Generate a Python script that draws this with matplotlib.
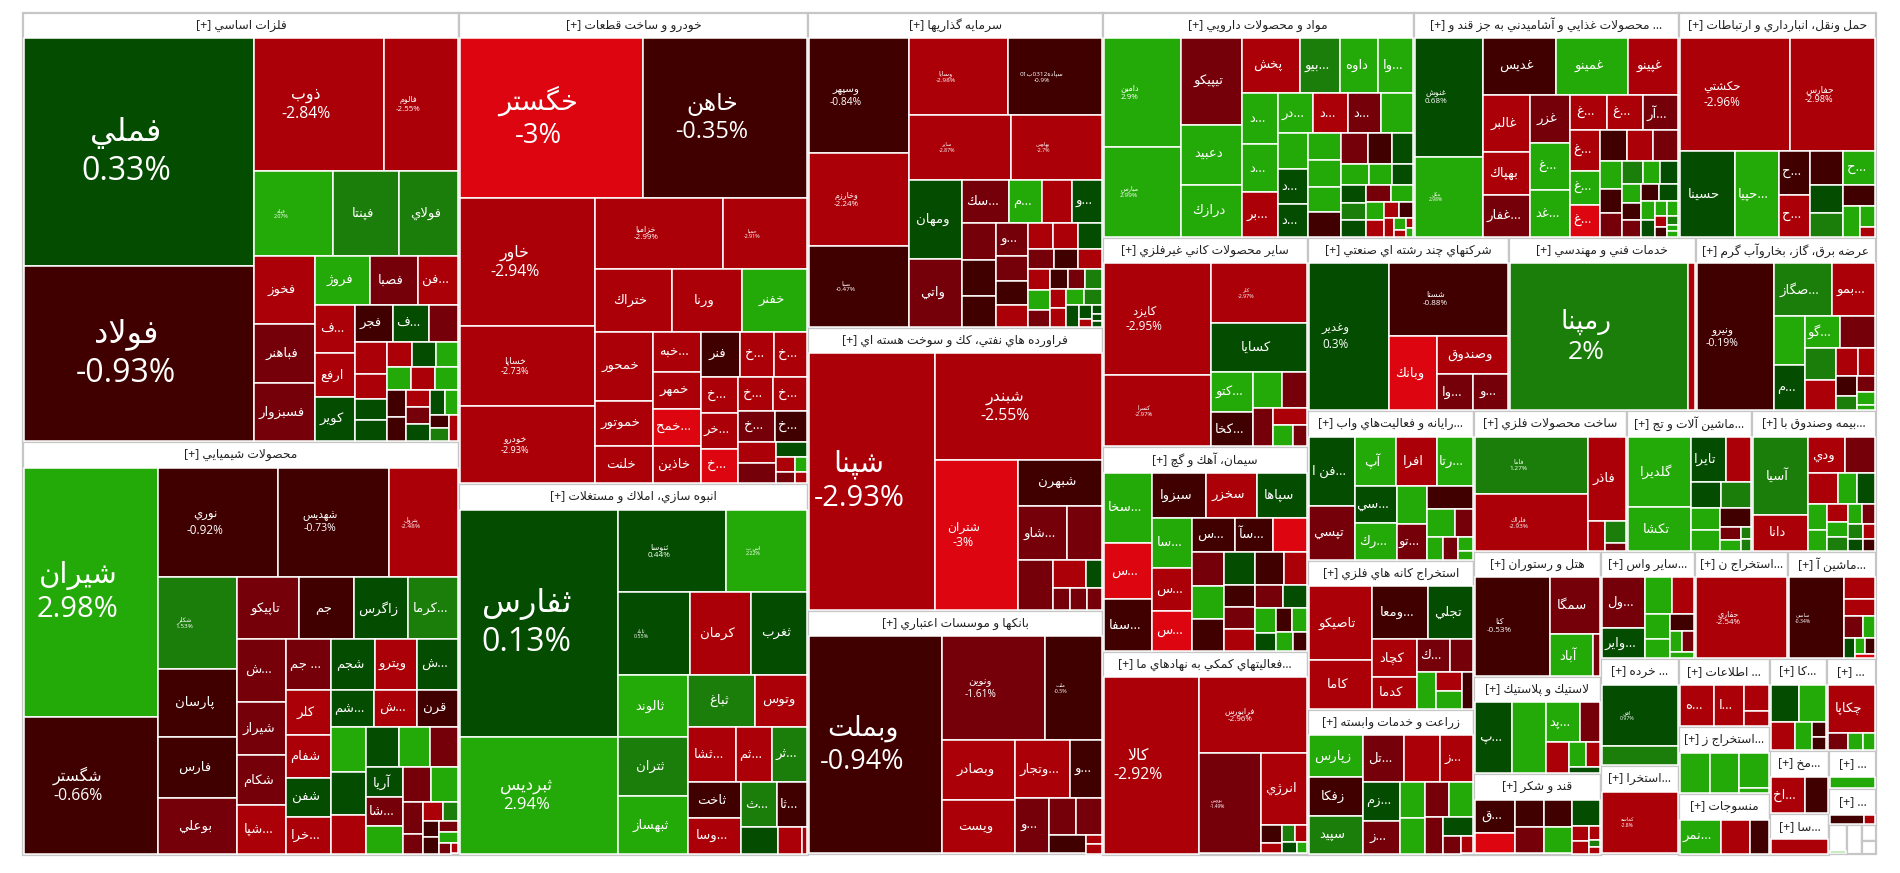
import re
import matplotlib
matplotlib.use("Agg")
import matplotlib.pyplot as plt
from matplotlib.colors import ListedColormap, BoundaryNorm
from matplotlib.patches import Rectangle

# sector titles and sizes (area share)
sector_titles = [
    'فلزات اساسي [+]', 'محصولات شيميايي [+]', 'خودرو و ساخت قطعات [+]', 'انبوه سازي، املاك و مستغلات [+]',
    'سرمايه گذاريها [+]', 'فراورده هاي نفتي، كك و سوخت هسته اي [+]', 'بانكها و موسسات اعتباري [+]',
    'مواد و محصولات دارويي [+]', '... محصولات غذايي و آشاميدني به جز قند و [+]', 'حمل ونقل، انبارداري و ارتباطات [+]',
    'ساير محصولات كاني غيرفلزي [+]', 'سيمان، آهك و گچ [+]', '...فعاليتهاي كمكي به نهادهاي ما [+]',
    'شركتهاي چند رشته اي صنعتي [+]', 'خدمات فني و مهندسي [+]', 'عرضه برق، گاز، بخاروآب گرم [+]',
    '...رايانه و فعاليت\u200cهاي واب [+]', 'استخراج كانه هاي فلزي [+]', 'زراعت و خدمات وابسته [+]',
    'ساخت محصولات فلزي [+]', '...ماشين آلات و تج [+]', '...بيمه وصندوق با [+]',
    'هتل و رستوران [+]', 'لاستيك و پلاستيك [+]', 'قند و شكر [+]',
    '...ساير واس [+]', '...استخراج ن [+]', '...ماشين آ [+]', '... خرده [+]', '...استخرا [+]',
    '... اطلاعات [+]', '...استخراج ز [+]', 'منسوجات [+]', '...كا [+]', '... [+]',
    '...مخ [+]', '...سا [+]', '... [+]', '... [+]', '', '', '', '']
sector_sizes = [185.8, 178.4, 163, 128, 91.8, 82.5, 71, 69.5, 59, 44, 42.6, 41.6, 41.2, 34.6, 32, 31,
                24.6, 24.4, 23.8, 21.3, 17.4, 17.3, 15.8, 12.3, 10.1, 10, 9.9, 9.4, 8.2, 6.8,
                6.1, 6.05, 5.4, 5.2, 4.5, 3.7, 2.4, 1.75, 1.65, 0.5, 0.45, 0.22, 0.18]

# cells per sector: symbol names, last change %, size
s01_names = ['فملي', 'فولاد', 'ذوب', 'فالوم', 'فيله', 'فپنتا', 'فولاي', 'فخوز', 'فباهنر', 'فسبزوار', 'فروژ', 'فصبا', '...فن', '...ف', 'ارفع', 'كوير', 'فجر', '...ف'] + [''] * 21
s01_pct = [0.33, -0.93, -2.84, -2.55, 2.07, 1.6, 1.5, -2.6, -1.5, -1.5, 2.7, -1.5, -2.6, -2.6, -2.6, 0.5, -0.6, 0.5,
           -1.5, -2.6, -2.6, 0.5, 0.5, -2.6, 0.5, 2.7, 2.7, -2.6, 2.7, -0.6, -0.6, -2.6, -1.5, 0.5, -0.6, -2.6, 0.5, 2.7, 1.5]
s01_size = [52.2, 40, 16.9, 9.6, 6.5, 5.4, 4.8, 3.9, 3.4, 3.3, 2.5, 2.2, 1.8, 1.75, 1.65, 1.6, 1.27, 1.2,
            0.95, 0.9, 0.7, 0.6, 0.57, 0.55, 0.5, 0.49, 0.48, 0.47, 0.45, 0.42, 0.38, 0.33, 0.33, 0.3, 0.2, 0.18, 0.33, 0.26, 0.2]

s02_names = ['شيران', 'شگستر', 'نوري', 'شهديس', 'پترول', 'شكلر', 'پارسان', 'فارس', 'بوعلي', 'تاپيكو', 'جم', 'زاگرس', '...كرما', '...ش', 'شيراز', 'شكام', '...شپا',
             '... جم', 'شجم', 'ويترو', '...ش', 'كلر', 'شفام', 'شفن', '...خرا', '...شم', '...ش', 'قرن'] + [''] * 6 + ['آريا', '...شا'] + [''] * 13
s02_pct = [2.98, -0.66, -0.92, -0.73, -2.48, 1.53, -0.7, -0.7, -1.5, -1.5, -0.7, 0.5, 1.5, -1.5, -1.5, -1.5, -2.6,
           -1.5, 0.5, -2.6, 0.5, -2.6, -2.6, 0.5, -2.6, 0.5, -2.6, -0.7, 2.7, 0.5, -2.6, 0.5, 2.7, -1.5, 0.5, -1.5,
           2.7, -1.5, 2.7, -1.5, -1.5, -2.6, 1.5, -0.7, -0.7, -1.5, 2.7, -1.5, -2.6]
s02_size = [32.9, 17.8, 12.7, 11.7, 7.3, 6.9, 5.1, 4.6, 4.1, 3.6, 3.2, 3.1, 2.9, 2.8, 2.4, 2.25, 2.15,
            2.1, 2.0, 1.95, 1.9, 1.89, 1.75, 1.6, 1.5, 1.45, 1.44, 1.4, 1.39, 1.35, 1.2, 1.15, 1.1, 1.0, 0.97, 0.94,
            0.9, 0.88, 0.85, 0.54, 0.33, 0.3, 0.22, 0.2, 0.2, 0.16, 0.15, 0.08, 0.05]

s03_names = ['خگستر', 'خاهن', 'خاور', 'خساپا', 'خودرو', 'خزاميا', 'حميا', 'ختراك', 'ورنا', 'خفنر', 'خمحور', 'خموتور', 'خلنت',
             '...خبه', 'خمهر', '...خمح', 'خاذين', 'فنر', '...خ', '...خ', '...خ', '...خر', '...خ', '...خ', '...خ', '...خ', '...خ'] + [''] * 7
s03_pct = [-3, -0.35, -2.94, -2.73, -2.93, -2.99, -2.91, -2.6, -2.6, 2.8, -2.6, -2.6, -2.6,
           -2.6, -2.6, -3, -2.6, -0.6, -2.6, -2.6, -2.6, -2.6, -3, -2.6, -2.6, -1.5, -0.6, -2.6, -1.5, 0.5, -2.6, -1.5, 2.7, -2.6]
s03_size = [28.6, 25.8, 16.8, 10.4, 10, 8.8, 5.7, 4.6, 4.2, 3.9, 3.75, 2.4, 2,
            1.75, 1.65, 1.64, 1.63, 1.6, 1.4, 1.35, 1.2, 1.19, 1.15, 1.05, 1.02, 1, 0.9, 0.68, 0.65, 0.4, 0.22, 0.15, 0.13, 0.1]

s04_names = ['ثفارس', 'ثبرديس', 'ثنوسا', 'اس ب', 'ثاباد', 'كرمان', 'ثغرب', 'ثالوند', 'ثتران', 'ثبهساز', 'ثباغ', 'وتوس', '...ثشا', '...ثم', '...ثر', 'ثاخت', '...وسا', '...ث', '...ثا', '', '', '']
s04_pct = [0.13, 2.94, 0.44, 2.22, 0.55, -2.6, 0.5, 2.8, 1.6, 2.8, 1.6, -2.6, -2.6, -2.6, 1.6, -0.6, -2.6, 1.6, -0.6, 0.5, -2.6, -2.6]
s04_size = [35.1, 17.9, 8.5, 6.4, 5.6, 4.8, 4.4, 4.1, 3.9, 3.75, 3.25, 2.5, 2.4, 1.85, 1.76, 1.75, 1.7, 1.45, 1.2, 0.85, 0.55, 0.1]

s05_names = ['وسپهر', 'وخارزم', 'صبا', 'وسايا', 'سپاده0312ب01', 'ساير', 'بهاوس', 'ومهان', 'واتي', '...سك', '...م', '', '...و', '', '', '', '...و'] + [''] * 25
s05_pct = [-0.84, -2.24, -0.47, -2.98, -0.9, -2.87, -2.7, 0.5, -1.5, -1.5, 2.8, -2.6, 0.5, -1.5, -0.6, -0.6,
           -1.5, -1.5, -0.6, -2.6, -2.6, -2.6, 0.5, -1.5, -0.6, -2.6, -2.6, -1.5, 2.8, -0.6, -2.6, 1.6, -2.6, 2.8, 1.6, -1.5, 0.5, 0.5, -2.6, 0.5, 0.5, 0.5]
s05_size = [11.4, 9.1, 7.9, 7.5, 7, 6.5, 5.8, 4.1, 3.5, 1.9, 1.3, 1.2, 1.19, 1.15, 1.1, 0.95,
            0.94, 0.7, 0.65, 0.6, 0.58, 0.56, 0.54, 0.45, 0.42, 0.4, 0.4, 0.32, 0.38, 0.28, 0.25, 0.27, 0.24, 0.23, 0.22, 0.28, 0.22, 0.14, 0.06, 0.05, 0.04, 0.03]

s06_names = ['شپنا', 'شبندر', 'شتران', 'شبهرن', '...شاو'] + [''] * 7
s06_pct = [-2.93, -2.55, -3, -0.6, -1.5, -1.5, -1.5, -2.6, 0.5, -1.5, -1.5, -1.5]
s06_size = [31.2, 17.2, 12, 3.5, 2.45, 1.7, 1.55, 0.8, 0.34, 0.29, 0.28, 0.25]

s07_names = ['وبملت', 'ونوين', 'ملت', 'وبصادر', 'ويست', '...وتجار', '...و', '...و', '', '', '', '', '']
s07_pct = [-0.94, -1.61, -0.5, -2.6, -2.6, -2.6, -0.6, -1.5, -1.5, -1.5, -0.6, -2.6, -2.6]
s07_size = [28.4, 10.4, 5.6, 4.2, 3.75, 3, 1.71, 1.7, 0.87, 0.83, 0.6, 0.1, 0.1]

s08_names = ['دامين', 'مبارس', 'تيپيكو', 'دعبيد', 'درازك', 'پخش', '...بيو', 'داوه', '...وا', '...د', '...د', '...بر', '...در', '...د', '...د', '', '', '...د', '...د'] + [''] * 24
s08_pct = [2.9, 2.99, -1.5, 2.8, 2.8, -2.6, 1.6, 2.8, 2.8, 2.8, 2.8, -2.6, 2.8, -2.6, -1.5, 2.8, 2.8, 0.5, 0.5,
           2.8, 2.8, 2.8, -0.6, -1.5, -0.6, 0.5, 0.5, 0.5, -1.5, 2.8, 2.8, 1.6, 2.8, 0.5, 2.8, -2.6, -2.6, -0.6, -2.6, 2.8, -2.6, -2.6, 2.8]
s08_size = [8.2, 6.7, 5.1, 3.5, 3, 3, 2.1, 1.95, 1.8, 1.65, 1.55, 1.45, 1.3, 1.25, 1.2, 1.15, 0.97, 0.95, 0.88,
            0.8, 0.78, 0.75, 0.72, 0.7, 0.65, 0.55, 0.38, 0.34, 0.33, 0.5, 0.42, 0.35, 0.3, 0.37, 0.26, 0.22, 0.2, 0.18, 0.15, 0.1, 0.05, 0.04, 0.03]

s09_names = ['غنوش', 'مكل', 'غديس', 'غمينو', 'غپينو', 'غالبر', 'بهپاك', '...غفار', 'غزر', '...غ', '...غد', '...غ', '...غ', '...آر', '...غ', '...غ', '...غ'] + [''] * 23
s09_pct = [0.68, 2.98, -0.6, 2.8, -2.6, -2.6, -2.6, -1.5, -1.5, 2.8, 2.8, -2.6, -2.6, -1.5, -2.6, 2.8, -3,
           -0.6, -2.6, -1.5, 2.8, -0.6, -1.5, 1.6, 2.8, 0.5, 2.8, -0.6, -0.6, -1.5, 0.5, 2.8, 0.5, 2.8, 2.8, -2.6, -0.6, 1.6, 2.8, 2.8]
s09_size = [7.8, 5.2, 4, 3.9, 2.7, 2.5, 1.9, 1.85, 1.75, 1.72, 1.7, 1.15, 1.14, 1.1, 1.09, 0.9, 0.85,
            0.75, 0.7, 0.68, 0.5, 0.45, 0.43, 0.4, 0.33, 0.32, 0.3, 0.27, 0.25, 0.26, 0.25, 0.2, 0.17, 0.13, 0.12, 0.1, 0.08, 0.06, 0.04, 0.03]

s10_names = ['حكشتي', 'حفارس', 'حسينا', '...حپيا', '...ح', '...ح', '', '...ح', '', '', '', '', '', '']
s10_pct = [-2.96, -2.98, 0.5, 2.8, -0.6, -2.6, -0.6, 2.8, 0.5, -0.6, 1.6, 2.8, 2.8, -2.6]
s10_size = [11.9, 9.2, 4.4, 3.5, 1.2, 1.15, 1, 0.95, 0.8, 0.55, 0.7, 0.42, 0.25, 0.1]

s11_names = ['كايزد', 'كسرا', 'كلر', 'كسايا', '...كتو', '...كخا', '', '', '', '', '', '']
s11_pct = [-2.95, -2.97, -2.97, 0.5, 2.8, -0.6, 2.8, -1.5, -1.5, -2.6, 2.8, -1.5]
s11_size = [11.6, 7.3, 5.4, 4.45, 1.5, 1.3, 0.9, 0.75, 0.65, 0.5, 0.35, 0.22]

s12_names = ['...سخا', '...س', '...سفا', 'سبزوا', 'سخزر', 'سپاها', '...سا', '...س', '...س', '...س', '...سآ'] + [''] * 18
s12_pct = [2.8, -3, -0.6, -0.6, -2.6, 0.5, 2.8, -2.6, -3, -0.6, -0.6, -3, -1.5, 2.8, -0.6, 0.5, -0.6, -2.6,
           -0.6, -1.5, 0.5, -2.6, -1.5, 2.8, 0.5, 2.8, -0.6, 2.8, -0.6]
s12_size = [3.1, 2.5, 2.25, 2.15, 2.05, 2, 1.8, 1.5, 1.4, 1.3, 1.15, 1, 0.95, 0.9, 0.88, 0.87, 0.8, 0.63,
            0.56, 0.55, 0.44, 0.55, 0.54, 0.42, 0.3, 0.28, 0.3, 0.25, 0.2]

s13_names = ['كالا', 'فرابورس', 'بورس', 'انرژي', '', '', '', '', '', '']
s13_pct = [-2.92, -2.96, -1.49, -2.6, -0.6, -2.6, -2.6, 1.6, 0.5, 2.8]
s13_size = [16.3, 7.8, 6, 3.05, 0.3, 0.17, 0.15, 0.17, 0.12, 0.07]

s14_names = ['وغدير', 'شستا', 'وبانك', 'وصندوق', '...وا', '...و']
s14_pct = [0.3, -0.88, -3, -2.6, -1.5, -1.5]
s14_size = [11.2, 8.2, 3.3, 2.5, 1.15, 1.1]

s15_names = ['رمپنا', '']
s15_pct = [2, -2.6]
s15_size = [25.2, 0.8]

s16_names = ['ونيرو', '...صگاز', '...بمو', '', '...م', '...گو', '', '', '', '', '', '', '', '', '', '']
s16_pct = [-0.19, 1.6, -2.6, 2.8, 0.5, 2.8, -1.5, 1.6, -2.6, -2.6, -2.6, -0.6, -1.5, 1.6, 2.8, 2.8]
s16_size = [11, 2.85, 2.1, 1.35, 1.25, 1.0, 0.98, 0.9, 0.85, 0.52, 0.42, 0.33, 0.22, 0.24, 0.17, 0.06]

s17_names = ['...فن ا', 'تپسي', 'آپ', 'افرا', '...رتا', '...سي', '...رك', '', '...تو', '', '', '', '', '', '', '']
s17_pct = [0.5, -1.5, 2.8, -2.6, 2.8, 0.5, 2.8, 2.8, -1.5, -0.6, 2.8, 2.8, -1.5, -1.5, 2.8, 2.8]
s17_size = [3.05, 2.35, 1.9, 1.85, 1.65, 1.45, 1.44, 1.08, 1, 0.97, 0.7, 0.3, 0.27, 0.42, 0.15, 0.1]

s18_names = ['تاصيكو', 'كاما', '...ومعا', 'تجلي', 'كچاد', 'كدما', '...ك', '', '', '', '', '']
s18_pct = [-2.6, -2.6, -0.6, 0.5, -2.6, -2.6, -1.5, -1.5, 2.8, 2.8, -2.6, -0.6]
s18_size = [4.4, 2.9, 2.75, 2.15, 1.55, 1.25, 1, 0.65, 0.62, 0.38, 0.4, 0.3]

s19_names = ['زپارس', 'زفكا', 'سپيد', '...تل', '', '...ز', '...زم', '...ز', '', '', '', '', '', '', '', '']
s19_pct = [2.8, -0.6, 1.6, -1.5, -2.6, -2.6, 0.5, -1.5, 2.8, 2.8, -1.5, 2.8, -1.5, 0.5, -1.5, -2.6]
s19_size = [2.1, 1.95, 1.9, 1.8, 1.55, 1.4, 1.35, 1.1, 0.8, 0.78, 0.75, 0.72, 0.6, 0.5, 0.24, 0.15]

s20_names = ['فاما', 'فلراك', 'فاذر', '', '', '']
s20_pct = [1.27, -2.93, -2.6, -2.6, 1.6, -1.5]
s20_size = [6.35, 6.3, 3, 0.42, 0.4, 0.12]

s21_names = ['گلديرا', 'تكشا', 'تايرا'] + [''] * 10
s21_pct = [2.8, 2.8, 0.5, -2.6, 0.5, 1.6, 2.8, 2.8, -0.6, -1.5, 2.8, 1.6, 1.6]
s21_size = [4.4, 2.65, 1.5, 1.05, 0.75, 0.72, 0.57, 0.53, 0.5, 0.22, 0.19, 0.09, 0.08]

s22_names = ['آسيا', 'دانا', 'ودي'] + [''] * 15
s22_pct = [1.6, -2.6, -2.6, -1.5, -2.6, 2.8, 0.5, 2.8, 2.8, -2.6, 2.8, 2.8, -1.5, 1.6, 1.6, -2.6, 0.5, -0.6]
s22_size = [4.2, 1.9, 1.3, 1, 0.86, 0.5, 0.48, 0.44, 0.33, 0.33, 0.28, 0.23, 0.2, 0.24, 0.18, 0.14, 0.13, 0.1]

s23_names = ['كتا', 'سمگا', 'آباد', '']
s23_pct = [-0.53, -1.5, 2.8, -1.5]
s23_size = [7.2, 2.7, 1.65, 0.25]

s24_names = ['...پ', '', '...پد', '', '', '', '', '']
s24_pct = [0.5, 2.8, 2.8, -1.5, -2.6, 2.8, -2.6, 0.5]
s24_size = [2.5, 2.25, 1.2, 0.68, 0.62, 0.35, 0.3, 0.15]

s25_names = ['...ق'] + [''] * 11
s25_pct = [-0.6, -3, -0.6, -1.5, -0.6, 2.8, 0.5, -2.6, -2.6, -2.6, 1.6, -2.6]
s25_size = [1.25, 0.78, 0.72, 0.7, 0.69, 0.68, 0.67, 0.22, 0.17, 0.12, 0.05, 0.05]

s26_names = ['...ول', '...واير', '', '', '', '', '', '', '', '']
s26_pct = [-1.5, 0.5, 2.8, -2.6, 2.8, 2.8, -0.6, 2.8, -1.5, 2.8]
s26_size = [2.05, 1.2, 0.92, 0.72, 0.52, 0.42, 0.34, 0.2, 0.2, 0.12]

s27_names = ['حفاري']
s27_pct = [-2.54]
s27_size = [7.1]

s28_names = ['ساسي', '', '', '', '', '', '', '', '']
s28_pct = [-0.34, -2.6, -2.6, -1.5, 2.8, 0.5, 2.8, -0.6, -3]
s28_size = [4.3, 0.61, 0.45, 0.35, 0.2, 0.18, 0.12, 0.12, 0.06]

s29_names = ['افق', '']
s29_pct = [0.97, 1.6]
s29_size = [4.3, 1.3]

s30_names = ['كماسه']
s30_pct = [-2.8]
s30_size = [4.4]

s31_names = ['...ه', '...ا', '', '']
s31_pct = [-2.6, -2.6, -2.6, -2.6]
s31_size = [1.2, 1.05, 0.52, 0.3]

s32_names = ['', '', '', '']
s32_pct = [2.8, 2.8, 2.8, 2.8]
s32_size = [1.06, 1, 0.87, 0.12]

s33_names = ['...نمر', '', '']
s33_pct = [2.8, -2.6, -0.6]
s33_size = [1.2, 0.85, 0.52]

s34_names = ['', '', '', '', '', '']
s34_pct = [0.5, 2.8, -2.6, 2.8, -0.6, -0.6]
s34_size = [1, 0.9, 0.6, 0.42, 0.16, 0.14]

s35_names = ['چكاپا', '', '', '']
s35_pct = [-2.6, -1.5, 2.8, 2.8]
s35_size = [1.95, 0.26, 0.2, 0.14]

s36_names = ['...اخ', '']
s36_pct = [-2.6, -0.6]
s36_size = [1.05, 0.7]

s37_names, s37_pct, s37_size = [''], [-2.6], [0.6]
s38_names, s38_pct, s38_size = [''], [2.8], [0.3]
s39_names, s39_pct, s39_size = ['', ''], [-0.6, -2.6], [0.25, 0.07]
s40_names, s40_pct, s40_size = [''], [2.8], [0.07]
empty_names, empty_pct, empty_size = [], [], []

all_names = [s01_names, s02_names, s03_names, s04_names, s05_names, s06_names, s07_names, s08_names, s09_names, s10_names,
             s11_names, s12_names, s13_names, s14_names, s15_names, s16_names, s17_names, s18_names, s19_names, s20_names,
             s21_names, s22_names, s23_names, s24_names, s25_names, s26_names, s27_names, s28_names, s29_names, s30_names,
             s31_names, s32_names, s33_names, s34_names, s35_names, s36_names, s37_names, s38_names, s39_names, s40_names,
             empty_names, empty_names, empty_names]
all_pct = [s01_pct, s02_pct, s03_pct, s04_pct, s05_pct, s06_pct, s07_pct, s08_pct, s09_pct, s10_pct,
           s11_pct, s12_pct, s13_pct, s14_pct, s15_pct, s16_pct, s17_pct, s18_pct, s19_pct, s20_pct,
           s21_pct, s22_pct, s23_pct, s24_pct, s25_pct, s26_pct, s27_pct, s28_pct, s29_pct, s30_pct,
           s31_pct, s32_pct, s33_pct, s34_pct, s35_pct, s36_pct, s37_pct, s38_pct, s39_pct, s40_pct,
           empty_pct, empty_pct, empty_pct]
all_size = [s01_size, s02_size, s03_size, s04_size, s05_size, s06_size, s07_size, s08_size, s09_size, s10_size,
            s11_size, s12_size, s13_size, s14_size, s15_size, s16_size, s17_size, s18_size, s19_size, s20_size,
            s21_size, s22_size, s23_size, s24_size, s25_size, s26_size, s27_size, s28_size, s29_size, s30_size,
            s31_size, s32_size, s33_size, s34_size, s35_size, s36_size, s37_size, s38_size, s39_size, s40_size,
            empty_size, empty_size, empty_size]

# symbols that also show the % line, with its font size in pt
pct_label_pt = {'فملي': 23, 'فولاد': 23, 'ذوب': 11.3, 'فالوم': 5.7, 'فيله': 3.8, 'شيران': 21, 'شگستر': 11.3, 'نوري': 8.5,
                'شهديس': 7.6, 'پترول': 4.6, 'شكلر': 4.6, 'خگستر': 19.7, 'خاهن': 16.8, 'خاور': 11.3, 'خساپا': 6.6, 'خودرو': 6.6,
                'خزاميا': 5.8, 'حميا': 3.9, 'ثفارس': 23, 'ثبرديس': 12, 'ثنوسا': 5.9, 'اس ب': 3.9, 'ثاباد': 3.9, 'وسپهر': 7.4,
                'وخارزم': 5.8, 'صبا': 4.6, 'وسايا': 4.6, 'سپاده0312ب01': 4.6, 'ساير': 3.8, 'بهاوس': 3.8, 'دامين': 5.8,
                'مبارس': 4.6, 'شپنا': 21, 'شبندر': 11.3, 'شتران': 8.8, 'وبملت': 19.4, 'ونوين': 7.3, 'ملت': 3.9, 'غنوش': 5.9,
                'مكل': 3.6, 'حكشتي': 8.5, 'حفارس': 6.6, 'كايزد': 8.5, 'كسرا': 4.2, 'كلر': 3.9, 'كالا': 11.3, 'فرابورس': 5.8,
                'بورس': 3.5, 'وغدير': 8.5, 'شستا': 5.8, 'رمپنا': 19, 'ونيرو': 7.6, 'فاما': 4.6, 'فلراك': 4.6, 'كتا': 5.8,
                'حفاري': 5.8, 'ساسي': 3.7, 'افق': 3.8, 'كماسه': 3.5}
# 'كلر' in the chemicals sector is a plain name label
plain_in_sector = {(1, 'كلر')}

font_list = ['Open Sans', 'DejaVu Sans']
plt.rcParams['font.family'] = font_list

cmap = ListedColormap(['#dc0510', '#ac0008', '#75000a', '#400000', '#044c00', '#1c7e0a', '#24aa08'])
norm = BoundaryNorm([-3.5, -2.995, -1.9, -1.0, 0, 1, 2.05, 3.5], cmap.N)

# arabic shaping, matplotlib does not join letters or reorder rtl by itself
dual = {'ئ': 0xFE89, 'ب': 0xFE8F, 'ت': 0xFE95, 'ث': 0xFE99, 'ج': 0xFE9D, 'ح': 0xFEA1, 'خ': 0xFEA5, 'س': 0xFEB1,
        'ش': 0xFEB5, 'ص': 0xFEB9, 'ض': 0xFEBD, 'ط': 0xFEC1, 'ظ': 0xFEC5, 'ع': 0xFEC9, 'غ': 0xFECD, 'ف': 0xFED1,
        'ق': 0xFED5, 'ك': 0xFED9, 'ل': 0xFEDD, 'م': 0xFEE1, 'ن': 0xFEE5, 'ه': 0xFEE9, 'ي': 0xFEF1,
        'پ': 0xFB56, 'چ': 0xFB7A, 'گ': 0xFB92, 'ک': 0xFB8E, 'ی': 0xFBFC}
right = {'آ': 0xFE81, 'أ': 0xFE83, 'ؤ': 0xFE85, 'إ': 0xFE87, 'ا': 0xFE8D, 'ة': 0xFE93, 'د': 0xFEA9, 'ذ': 0xFEAB,
         'ر': 0xFEAD, 'ز': 0xFEAF, 'و': 0xFEED, 'ژ': 0xFB8A}
mirror = {'[': ']', ']': '[', '(': ')', ')': '('}


def shape(text):
    out = []
    i = 0
    n = len(text)
    prev_joins = False
    while i < n:
        ch = text[i]
        nxt = text[i + 1] if i + 1 < n else ''
        if ch == 'ل' and nxt in ('ا', 'آ'):
            base = 0xFEFB if nxt == 'ا' else 0xFEF5
            out.append(chr(base + (1 if prev_joins else 0)))
            prev_joins = False
            i += 2
            continue
        if ch in dual:
            next_joins = nxt in dual or nxt in right
            form = (1 if prev_joins and not next_joins else 2 if next_joins and not prev_joins else 3 if prev_joins else 0)
            out.append(chr(dual[ch] + form))
            prev_joins = next_joins
        elif ch in right:
            out.append(chr(right[ch] + (1 if prev_joins else 0)))
            prev_joins = False
        elif ch == '\u200c':
            prev_joins = False
        else:
            out.append(ch)
            prev_joins = False
        i += 1
    tokens = re.findall(r'[0-9A-Za-z]+|.', ''.join(out))
    return ''.join(mirror.get(t, t) for t in reversed(tokens))


def worst(row, side):
    s = sum(row)
    return max(max(side * side * r / (s * s), s * s / (side * side * r)) for r in row)


def squarify(sizes, x, y, w, h):
    # squarified treemap, sizes come sorted big to small
    rects = []
    scale = w * h / sum(sizes)
    left = [v * scale for v in sizes]
    while left:
        side = min(w, h)
        row = [left.pop(0)]
        while left and worst(row + [left[0]], side) <= worst(row, side):
            row.append(left.pop(0))
        s = sum(row)
        if h <= w:
            thick = s / h
            yy = y
            for r in row:
                rects.append((x, yy, thick, r / thick))
                yy += r / thick
            x += thick
            w -= thick
        else:
            thick = s / w
            xx = x
            for r in row:
                rects.append((xx, y, r / thick, thick))
                xx += r / thick
            y += thick
            h -= thick
    return rects


fig = plt.figure(figsize=(19, 8.73), dpi=100)
ax = fig.add_axes([0, 0, 1, 1])
ax.set_xlim(0, 1900)
ax.set_ylim(873, 0)
ax.axis('off')

sector_rects = squarify(sector_sizes, 22.5, 12.5, 1853.5, 842)
for sid, (sx, sy, sw, sh) in enumerate(sector_rects):
    ax.add_patch(Rectangle((sx, sy), sw, sh, facecolor='white', edgecolor='#c6c6c6', linewidth=1.6, zorder=1))
    title = sector_titles[sid]
    if title and sh >= 27:
        ax.text(sx + sw / 2, sy + 12.5, shape(title), ha='center', va='center', fontsize=8.8, color='#222222', zorder=4)
    sizes = all_size[sid]
    if not sizes or sh < 27:
        continue
    # the sizes were read inside the white gaps, so add the 2 px gap back
    outer = [((1000 * v) ** 0.5 + 2) ** 2 for v in sizes]
    order = sorted(range(len(outer)), key=lambda k: -outer[k])
    cells = squarify([outer[k] for k in order], sx + 1, sy + 25.5, sw - 2, sh - 26.5)
    for k, (cx, cy, cw, ch) in zip(order, cells):
        pct = all_pct[sid][k]
        ax.add_patch(Rectangle((cx, cy), cw, ch, facecolor=cmap(norm(pct)), edgecolor='white', linewidth=1.1, zorder=2))
        name = all_names[sid][k]
        if not name:
            continue
        if name in pct_label_pt and (sid, name) not in plain_in_sector:
            txt = shape(name) + '\n' + f'{pct:g}%'
            ax.text(cx + cw / 2 - 13, cy + ch / 2, txt, ha='center', va='center', color='white',
                    fontsize=pct_label_pt[name], linespacing=1.25, zorder=3)
        else:
            ax.text(cx + cw / 2 - 3, cy + ch / 2, shape(name), ha='center', va='center', color='white',
                    fontsize=9.5, zorder=3)

fig.savefig('out.png', dpi=100, facecolor='white')
